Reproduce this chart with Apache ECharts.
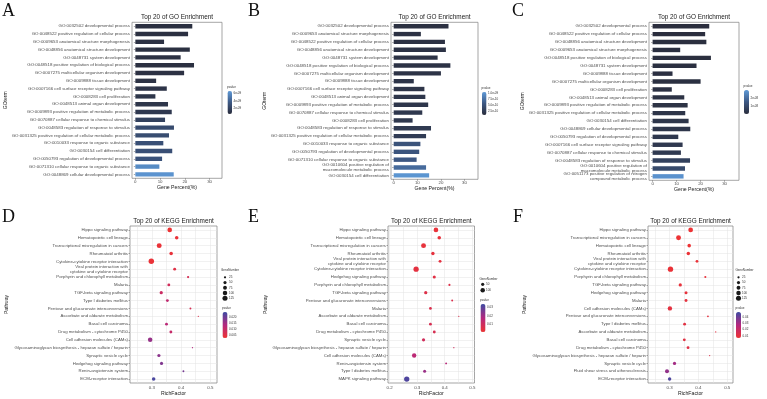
<!DOCTYPE html>
<html>
<head>
<meta charset="utf-8">
<script src="https://cdn.jsdelivr.net/npm/echarts@6/dist/echarts.min.js"></script>
<style>
html, body { margin: 0; padding: 0; background: #fff; }
#chart { width: 767px; height: 399px; }
</style>
</head>
<body>
<div id="chart"></div>
<script>
// ---- GO panels (A, B, C) ----
var goTermsA = [
    'GO:0032502 developmental process',
    'GO:0048522 positive regulation of cellular process',
    'GO:0009653 anatomical structure morphogenesis',
    'GO:0048856 anatomical structure development',
    'GO:0048731 system development',
    'GO:0048518 positive regulation of biological process',
    'GO:0007275 multicellular organism development',
    'GO:0009888 tissue development',
    'GO:0007166 cell surface receptor signaling pathway',
    'GO:0008283 cell proliferation',
    'GO:0048513 animal organ development',
    'GO:0009893 positive regulation of metabolic process',
    'GO:0070887 cellular response to chemical stimulus',
    'GO:0048583 regulation of response to stimulus',
    'GO:0031325 positive regulation of cellular metabolic process',
    'GO:0010033 response to organic substance',
    'GO:0030154 cell differentiation',
    'GO:0050793 regulation of developmental process',
    'GO:0071310 cellular response to organic substance',
    'GO:0048869 cellular developmental process'
];
var goPercentA = [23.0, 21.3, 11.6, 22.0, 18.3, 23.7, 19.7, 8.4, 12.7, 8.1, 13.2, 14.7, 12.0, 15.6, 13.6, 11.3, 14.9, 10.8, 9.7, 15.5];
var goPvalueA = [0.8e-9, 0.8e-9, 0.9e-9, 0.8e-9, 0.9e-9, 0.8e-9, 0.9e-9, 1.0e-9, 1.1e-9, 1.2e-9, 1.2e-9, 1.4e-9, 2.0e-9, 2.7e-9, 2.8e-9, 3.0e-9, 3.0e-9, 3.2e-9, 5.9e-9, 6.3e-9];

var goTermsB = [
    'GO:0032502 developmental process',
    'GO:0009653 anatomical structure morphogenesis',
    'GO:0048522 positive regulation of cellular process',
    'GO:0048856 anatomical structure development',
    'GO:0048731 system development',
    'GO:0048518 positive regulation of biological process',
    'GO:0007275 multicellular organism development',
    'GO:0009888 tissue development',
    'GO:0007166 cell surface receptor signaling pathway',
    'GO:0048513 animal organ development',
    'GO:0009893 positive regulation of metabolic process',
    'GO:0070887 cellular response to chemical stimulus',
    'GO:0008283 cell proliferation',
    'GO:0048583 regulation of response to stimulus',
    'GO:0031325 positive regulation of cellular metabolic process',
    'GO:0010033 response to organic substance',
    'GO:0050793 regulation of developmental process',
    'GO:0071310 cellular response to organic substance',
    'GO:0010604 positive regulation of\nmacromolecule metabolic process',
    'GO:0030154 cell differentiation'
];
var goPercentB = [23.2, 11.5, 21.7, 22.1, 18.6, 24.0, 20.0, 8.5, 13.0, 13.4, 14.6, 12.1, 8.0, 15.8, 13.7, 11.3, 10.8, 9.7, 13.7, 15.0];
var goPvalueB = [0.12e-9, 0.13e-9, 0.13e-9, 0.14e-9, 0.14e-9, 0.14e-9, 0.15e-9, 0.16e-9, 0.17e-9, 0.18e-9, 0.18e-9, 0.2e-9, 0.2e-9, 0.22e-9, 0.25e-9, 0.5e-9, 0.52e-9, 0.55e-9, 0.7e-9, 1.0e-9];

var goTermsC = [
    'GO:0032502 developmental process',
    'GO:0048522 positive regulation of cellular process',
    'GO:0048856 anatomical structure development',
    'GO:0009653 anatomical structure morphogenesis',
    'GO:0048518 positive regulation of biological process',
    'GO:0048731 system development',
    'GO:0009888 tissue development',
    'GO:0007275 multicellular organism development',
    'GO:0008283 cell proliferation',
    'GO:0048513 animal organ development',
    'GO:0009893 positive regulation of metabolic process',
    'GO:0031325 positive regulation of cellular metabolic process',
    'GO:0030154 cell differentiation',
    'GO:0048869 cellular developmental process',
    'GO:0050793 regulation of developmental process',
    'GO:0007166 cell surface receptor signaling pathway',
    'GO:0070887 cellular response to chemical stimulus',
    'GO:0048583 regulation of response to stimulus',
    'GO:0010604 positive regulation of\nmacromolecule metabolic process',
    'GO:0051173 positive regulation of nitrogen\ncompound metabolic process'
];
var goPercentC = [23.6, 21.9, 22.4, 11.5, 24.3, 18.3, 8.3, 20.0, 8.0, 13.2, 14.6, 13.6, 15.0, 15.7, 10.7, 12.5, 11.8, 15.6, 13.5, 12.9];
var goPvalueC = [0.05e-8, 0.05e-8, 0.06e-8, 0.08e-8, 0.06e-8, 0.1e-8, 0.12e-8, 0.1e-8, 0.15e-8, 0.2e-8, 0.2e-8, 0.25e-8, 0.3e-8, 0.3e-8, 0.35e-8, 0.4e-8, 0.45e-8, 0.7e-8, 1.0e-8, 2.8e-8];

var goTicks = [0, 10, 20, 30];
var pTicksA = [6e-9, 4e-9, 2e-9];
var pLabelsA = ['6e-09', '4e-09', '2e-09'];
var pTicksB = [1.0e-9, 7.5e-10, 5.0e-10, 2.5e-10];
var pLabelsB = ['1.0e-09', '7.5e-10', '5.0e-10', '2.5e-10'];
var pTicksC = [2e-8, 1e-8];
var pLabelsC = ['2e-08', '1e-08'];

// ---- KEGG panels (D, E, F) ----
var keggPathD = [
    'Hippo signaling pathway',
    'Hematopoietic cell lineage',
    'Transcriptional misregulation in cancers',
    'Rheumatoid arthritis',
    'Cytokine-cytokine receptor interaction',
    'Viral protein interaction with\ncytokine and cytokine receptor',
    'Porphyrin and chlorophyll metabolism',
    'Malaria',
    'TGF-beta signaling pathway',
    'Type I diabetes mellitus',
    'Pentose and glucuronate interconversions',
    'Ascorbate and aldarate metabolism',
    'Basal cell carcinoma',
    'Drug metabolism - cytochrome P450',
    'Cell adhesion molecules (CAMs)',
    'Glycosaminoglycan biosynthesis - heparan sulfate / heparin',
    'Synaptic vesicle cycle',
    'Hedgehog signaling pathway',
    'Renin-angiotensin system',
    'ECM-receptor interaction'
];
var keggRichD = [0.361, 0.385, 0.325, 0.366, 0.298, 0.378, 0.424, 0.358, 0.332, 0.353, 0.432, 0.459, 0.350, 0.365, 0.294, 0.439, 0.324, 0.333, 0.408, 0.306];
var keggGeneD = [105, 62, 120, 62, 145, 41, 24, 41, 52, 41, 18, 8, 41, 41, 100, 8, 50, 48, 18, 62];
var keggPvalueD = [0.0025, 0.003, 0.003, 0.0035, 0.003, 0.005, 0.007, 0.008, 0.009, 0.011, 0.007, 0.006, 0.012, 0.010, 0.016, 0.013, 0.017, 0.018, 0.019, 0.023];

var keggPathE = [
    'Hippo signaling pathway',
    'Hematopoietic cell lineage',
    'Transcriptional misregulation in cancers',
    'Rheumatoid arthritis',
    'Viral protein interaction with\ncytokine and cytokine receptor',
    'Cytokine-cytokine receptor interaction',
    'Hedgehog signaling pathway',
    'Porphyrin and chlorophyll metabolism',
    'TGF-beta signaling pathway',
    'Pentose and glucuronate interconversions',
    'Malaria',
    'Ascorbate and aldarate metabolism',
    'Basal cell carcinoma',
    'Drug metabolism - cytochrome P450',
    'Synaptic vesicle cycle',
    'Glycosaminoglycan biosynthesis - heparan sulfate / heparin',
    'Cell adhesion molecules (CAMs)',
    'Renin-angiotensin system',
    'Type I diabetes mellitus',
    'MAPK signaling pathway'
];
var keggRichE = [0.368, 0.380, 0.323, 0.357, 0.383, 0.296, 0.362, 0.417, 0.331, 0.427, 0.348, 0.451, 0.348, 0.362, 0.323, 0.433, 0.289, 0.405, 0.327, 0.262];
var keggGeneE = [105, 62, 120, 58, 41, 135, 48, 22, 52, 18, 38, 8, 40, 40, 50, 8, 95, 18, 45, 140];
var keggPvalueE = [0.0015, 0.002, 0.002, 0.0025, 0.003, 0.003, 0.004, 0.005, 0.005, 0.006, 0.006, 0.006, 0.007, 0.007, 0.009, 0.010, 0.015, 0.016, 0.021, 0.032];

var keggPathF = [
    'Hippo signaling pathway',
    'Transcriptional misregulation in cancers',
    'Hematopoietic cell lineage',
    'Rheumatoid arthritis',
    'Viral protein interaction with\ncytokine and cytokine receptor',
    'Cytokine-cytokine receptor interaction',
    'Porphyrin and chlorophyll metabolism',
    'TGF-beta signaling pathway',
    'Hedgehog signaling pathway',
    'Malaria',
    'Cell adhesion molecules (CAMs)',
    'Pentose and glucuronate interconversions',
    'Type I diabetes mellitus',
    'Ascorbate and aldarate metabolism',
    'Basal cell carcinoma',
    'Drug metabolism - cytochrome P450',
    'Glycosaminoglycan biosynthesis - heparan sulfate / heparin',
    'Synaptic vesicle cycle',
    'Fluid shear stress and atherosclerosis',
    'ECM-receptor interaction'
];
var keggRichF = [0.373, 0.331, 0.368, 0.365, 0.395, 0.303, 0.424, 0.337, 0.357, 0.357, 0.301, 0.433, 0.352, 0.460, 0.351, 0.364, 0.439, 0.317, 0.291, 0.300];
var keggGeneF = [110, 120, 62, 60, 38, 140, 22, 52, 45, 42, 95, 16, 40, 8, 40, 40, 8, 52, 80, 58];
var keggPvalueF = [0.007, 0.007, 0.007, 0.0075, 0.008, 0.008, 0.009, 0.009, 0.009, 0.0095, 0.010, 0.010, 0.011, 0.010, 0.011, 0.012, 0.013, 0.030, 0.033, 0.045];

var richTicksD = [0.3, 0.4, 0.5];
var richTicksE = [0.2, 0.3, 0.4, 0.5];
var richGridD = [0.25, 0.3, 0.35, 0.4, 0.45, 0.5];
var richGridE = [0.2, 0.25, 0.3, 0.35, 0.4, 0.45, 0.5];
var geneBreaksD = [25, 50, 75, 100, 125];
var geneBreaksE = [50, 100];
var pTicksD = [0.020, 0.015, 0.010, 0.005];
var pLabelsD = ['0.020', '0.015', '0.010', '0.005'];
var pTicksE = [0.03, 0.02, 0.01];
var pLabelsE = ['0.03', '0.02', '0.01'];
var pTicksF = [0.04, 0.03, 0.02, 0.01];
var pLabelsF = ['0.04', '0.03', '0.02', '0.01'];

var FONT = '"Liberation Sans", Arial, sans-serif';
var SERIF = '"Liberation Serif", "DejaVu Serif", serif';
var goColors = ['#2a2d3c', '#3d5883', '#5e9ad8'];
var keggColors = ['#ee3333', '#b4287f', '#3e4ba3'];

function dotSize(n) {
    return 0.45 * Math.sqrt(n);
}

var option = {
    backgroundColor: '#ffffff',
    animation: false,
    grid: [], xAxis: [], yAxis: [], series: [], visualMap: [], graphic: []
};

function addText(x, y, str, size, opt) {
    opt = opt || {};
    option.graphic.push({
        type: 'text', x: x, y: y, rotation: opt.rot || 0, silent: true,
        style: {
            text: str, fontSize: size, fontFamily: opt.family || FONT,
            fill: opt.color || '#1a1a1a', align: opt.align || 'left', verticalAlign: 'middle'
        }
    });
}

function colorBar(i, cb, ticks, labels, colors) {
    option.visualMap.push({
        type: 'continuous', seriesIndex: i, dimension: cb.dim,
        min: cb.min, max: cb.max, left: cb.x, top: cb.y,
        itemWidth: cb.w, itemHeight: cb.h, padding: 0,
        calculable: false, hoverLink: false,
        inRange: { color: colors }
    });
    addText(cb.x - 0.5, cb.y - 4.2, 'pvalue', 3, { color: '#333' });
    ticks.forEach(function (v, k) {
        var y = cb.y + (cb.max - v) / (cb.max - cb.min) * cb.h;
        addText(cb.x + cb.w + 1.5, y, labels[k], 3, { color: '#333' });
    });
}

var goPanels = [
    { letter: 'A', letterX: 2, terms: goTermsA, pct: goPercentA, pv: goPvalueA,
      box: [132, 22.3, 90, 156], xr: [-1.35, 35], nameGap: 121,
      cb: { x: 227.5, y: 91, w: 4.5, h: 23, min: 0.6e-9, max: 6.6e-9, dim: 2 }, ticks: pTicksA, labels: pLabelsA },
    { letter: 'B', letterX: 248, terms: goTermsB, pct: goPercentB, pv: goPvalueB,
      box: [391, 22.3, 87, 157], xr: [-1.15, 35.7], nameGap: 123,
      cb: { x: 482, y: 92, w: 4.5, h: 23, min: 0.08e-9, max: 1.04e-9, dim: 2 }, ticks: pTicksB, labels: pLabelsB },
    { letter: 'C', letterX: 512, terms: goTermsC, pct: goPercentC, pv: goPvalueC,
      box: [649, 22.3, 90, 158], xr: [-1.5, 36], nameGap: 121,
      cb: { x: 744, y: 90, w: 5, h: 24, min: 0, max: 3e-8, dim: 2 }, ticks: pTicksC, labels: pLabelsC }
];

goPanels.forEach(function (p) {
    var i = option.grid.length;
    var b = p.box;
    option.grid.push({ left: b[0], top: b[1], width: b[2], height: b[3], show: true, borderColor: '#7f7f7f', borderWidth: 0.7 });
    option.xAxis.push({
        gridIndex: i, type: 'value', min: p.xr[0], max: p.xr[1],
        name: 'Gene Percent(%)', nameLocation: 'middle', nameGap: 7,
        nameTextStyle: { fontSize: 5.2, color: '#1a1a1a', fontFamily: FONT },
        axisLine: { show: false },
        axisTick: { show: true, length: 1.5, customValues: goTicks, lineStyle: { color: '#555', width: 0.5 } },
        axisLabel: { customValues: goTicks, fontSize: 4.4, color: '#4d4d4d', margin: 1.8, fontFamily: FONT },
        splitLine: { show: false }
    });
    option.yAxis.push({
        gridIndex: i, type: 'category', data: p.terms, inverse: true,
        name: 'GOterm', nameLocation: 'middle', nameGap: p.nameGap,
        nameTextStyle: { fontSize: 5, color: '#1a1a1a', fontFamily: FONT },
        axisLine: { show: false },
        axisTick: { show: true, alignWithLabel: true, interval: 0, length: 1.5, lineStyle: { color: '#555', width: 0.5 } },
        axisLabel: { interval: 0, fontSize: 4.4, lineHeight: 4.6, color: '#4d4d4d', margin: 2, fontFamily: FONT },
        splitLine: { show: false }
    });
    option.series.push({
        type: 'bar', xAxisIndex: i, yAxisIndex: i, barWidth: '56%', silent: true,
        data: p.terms.map(function (t, k) { return [p.pct[k], t, p.pv[k]]; }),
        encode: { x: 0, y: 1 }
    });
    colorBar(i, p.cb, p.ticks, p.labels, goColors);
    addText(b[0] + b[2] / 2, 17.3, 'Top 20 of GO Enrichment', 6.4, { align: 'center' });
    addText(p.letterX, 11.5, p.letter, 18, { family: SERIF, color: '#111' });
});

var keggPanels = [
    { letter: 'D', letterX: 2, path: keggPathD, rich: keggRichD, gene: keggGeneD, pv: keggPvalueD,
      box: [130, 226, 87, 157], xr: [0.225, 0.523], ticks: richTicksD, gridv: richGridD, nameGap: 121,
      cb: { x: 222.5, y: 312, w: 5, h: 26, min: 0.0023, max: 0.0241, dim: 3 }, pt: pTicksD, pl: pLabelsD,
      gn: { x: 221, y: 270.3, dotX: 225, labX: 229, y0: 277.3, step: 5.25, breaks: geneBreaksD } },
    { letter: 'E', letterX: 248, path: keggPathE, rich: keggRichE, gene: keggGeneE, pv: keggPvalueE,
      box: [388, 226, 86.5, 157], xr: [0.194, 0.508], ticks: richTicksE, gridv: richGridE, nameGap: 120,
      cb: { x: 480.5, y: 304, w: 5, h: 28, min: 0, max: 0.0345, dim: 3 }, pt: pTicksE, pl: pLabelsE,
      gn: { x: 479.5, y: 279, dotX: 482.7, labX: 486, y0: 284.3, step: 6, breaks: geneBreaksE } },
    { letter: 'F', letterX: 513, path: keggPathF, rich: keggRichF, gene: keggGeneF, pv: keggPvalueF,
      box: [648, 226, 85, 157], xr: [0.225, 0.52], ticks: richTicksD, gridv: richGridD, nameGap: 121,
      cb: { x: 736, y: 312, w: 5, h: 26, min: 0.0065, max: 0.048, dim: 3 }, pt: pTicksF, pl: pLabelsF,
      gn: { x: 735.5, y: 270.3, dotX: 738.5, labX: 742, y0: 277.3, step: 5.25, breaks: geneBreaksD } }
];

keggPanels.forEach(function (p) {
    var i = option.grid.length;
    var b = p.box;
    option.grid.push({ left: b[0], top: b[1], width: b[2], height: b[3], show: true, borderColor: '#7f7f7f', borderWidth: 0.7 });
    option.xAxis.push({
        gridIndex: i, type: 'value', min: p.xr[0], max: p.xr[1],
        name: 'RichFactor', nameLocation: 'middle', nameGap: 7.5,
        nameTextStyle: { fontSize: 5.2, color: '#1a1a1a', fontFamily: FONT },
        axisLine: { show: false },
        axisTick: { show: false, customValues: p.gridv },
        axisLabel: { customValues: p.ticks, fontSize: 4.4, color: '#4d4d4d', margin: 2.8, fontFamily: FONT },
        splitLine: { show: true, lineStyle: { color: '#e3e3e3', width: 0.5 } }
    });
    option.yAxis.push({
        gridIndex: i, type: 'category', data: p.path, inverse: true,
        name: 'Pathway', nameLocation: 'middle', nameGap: p.nameGap,
        nameTextStyle: { fontSize: 5, color: '#1a1a1a', fontFamily: FONT },
        axisLine: { show: false },
        axisTick: { show: true, alignWithLabel: true, interval: 0, length: 1.5, lineStyle: { color: '#555', width: 0.5 } },
        axisLabel: { interval: 0, fontSize: 4.3, lineHeight: 4.5, color: '#4d4d4d', margin: 2, fontFamily: FONT },
        splitLine: { show: true, interval: 0, alignWithLabel: true, lineStyle: { color: '#e3e3e3', width: 0.5 } }
    });
    option.series.push({
        type: 'scatter', xAxisIndex: i, yAxisIndex: i, silent: true,
        data: p.path.map(function (t, k) { return [p.rich[k], t, p.gene[k], p.pv[k]]; }),
        encode: { x: 0, y: 1 },
        symbolSize: function (v) { return dotSize(v[2]); },
        itemStyle: { opacity: 1 }
    });
    colorBar(i, p.cb, p.pt, p.pl, keggColors);
    addText(b[0] + b[2] / 2, 221.7, 'Top 20 of KEGG Enrichment', 6.4, { align: 'center' });
    addText(p.letterX, 217.5, p.letter, 18, { family: SERIF, color: '#111' });
    addText(p.gn.x, p.gn.y, 'GeneNumber', 3, { color: '#333' });
    p.gn.breaks.forEach(function (n, k) {
        var y = p.gn.y0 + k * p.gn.step;
        option.graphic.push({ type: 'circle', silent: true, x: p.gn.dotX, y: y,
            shape: { cx: 0, cy: 0, r: dotSize(n) / 2 }, style: { fill: '#1a1a1a' } });
        addText(p.gn.labX, y, String(n), 3, { color: '#333' });
    });
});

var myChart = echarts.init(document.getElementById('chart'));
myChart.setOption(option);
</script>
</body>
</html>
